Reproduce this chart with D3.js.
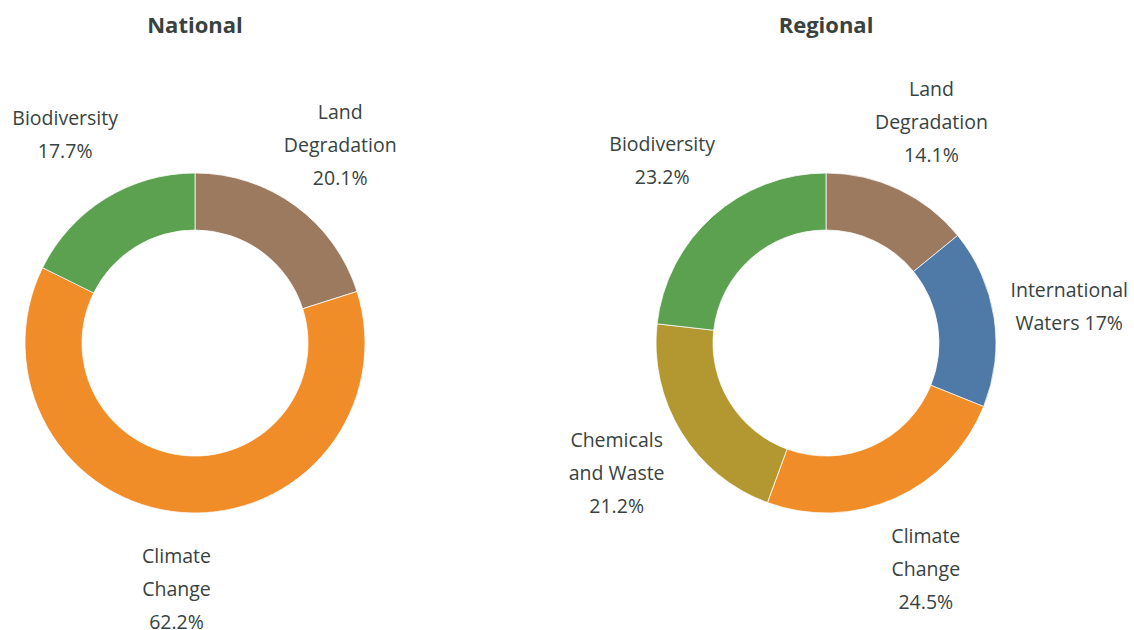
<!DOCTYPE html>
<html>
<head>
<meta charset="utf-8">
<script src="https://cdn.jsdelivr.net/npm/d3@7"></script>
<style>
    body { margin: 0; background: #ffffff; }
    #chart-area { width: 1134px; height: 630px; }
</style>
</head>
<body>
<div id="chart-area"></div>
<script>
//1. Data
var national_categories = ["Land Degradation", "Climate Change", "Biodiversity"];
var national_values = [20.1, 62.2, 17.7];

var regional_categories = ["Land Degradation", "International Waters", "Climate Change", "Chemicals and Waste", "Biodiversity"];
var regional_values = [14.1, 17, 24.5, 21.2, 23.2];

// label wrapping as it appears in the picture
var label_lines = {
    "National": {
        "Land Degradation": ["Land", "Degradation"],
        "Climate Change": ["Climate", "Change"],
        "Biodiversity": ["Biodiversity"]
    },
    "Regional": {
        "Land Degradation": ["Land", "Degradation"],
        "International Waters": ["International", "Waters"],
        "Climate Change": ["Climate", "Change"],
        "Chemicals and Waste": ["Chemicals", "and Waste"],
        "Biodiversity": ["Biodiversity"]
    }
};
// these ones have the percent on the same line as the last word
var inline_percent = ["International Waters"];

var Topic_Colors = {
    "Land Degradation": "#9b7a5f",
    "Climate Change": "#f08d29",
    "Biodiversity": "#5ba150",
    "International Waters": "#4f7aa8",
    "Chemicals and Waste": "#b39731"
};

//2. Sizes
var svg_width = 1134;
var svg_height = 630;
var outer_radius = 170;
var inner_radius = 113;
var label_radius = 246;
var line_height = 33;
var text_color = "#38433f";

var svg = d3.select("#chart-area").append("svg")
    .attr("width", svg_width)
    .attr("height", svg_height)
    .style("font-family", "'Open Sans', sans-serif");

//3. Color scale
var color_scaling = d3.scaleOrdinal()
    .domain(Object.keys(Topic_Colors))
    .range(Object.values(Topic_Colors));

//4. Pie & arcs
var pie = d3.pie()
    .sort(null)
    .value(function (d) { return d.value; });

var arc = d3.arc()
    .innerRadius(inner_radius)
    .outerRadius(outer_radius);

var label_arc = d3.arc()
    .innerRadius(label_radius)
    .outerRadius(label_radius);

//5. Drawing one donut
function draw_donut(title, categories, values, cx, cy) {
    var data = categories.map(function (c, i) {
        return { name: c, value: values[i] };
    });

    svg.append("text")
        .attr("x", cx)
        .attr("y", 33)
        .attr("text-anchor", "middle")
        .attr("font-size", "22px")
        .attr("font-weight", "bold")
        .attr("fill", text_color)
        .text(title);

    var g = svg.append("g")
        .attr("class", "donut")
        .attr("transform", "translate(" + cx + "," + cy + ")");

    var arcs = pie(data);

    g.selectAll("path")
        .data(arcs)
        .enter()
        .append("path")
        .attr("d", arc)
        .attr("fill", function (d) { return color_scaling(d.data.name); })
        .attr("stroke", "#ffffff")
        .attr("stroke-width", 0.75);

    // 5.1 Labels
    arcs.forEach(function (d) {
        var pos = label_arc.centroid(d);
        var lines = label_lines[title][d.data.name].slice();
        var pct = d.data.value + "%";
        if (inline_percent.indexOf(d.data.name) != -1) {
            lines[lines.length - 1] += " " + pct;
        } else {
            lines.push(pct);
        }
        var text = g.append("text")
            .attr("text-anchor", "middle")
            .attr("font-size", "19.5px")
            .attr("fill", text_color);
        lines.forEach(function (line, i) {
            text.append("tspan")
                .attr("x", pos[0])
                .attr("y", pos[1] + (i - (lines.length - 1) / 2) * line_height)
                .attr("dy", "0.4em")
                .text(line);
        });
    });
}

draw_donut("National", national_categories, national_values, 195, 343);
draw_donut("Regional", regional_categories, regional_values, 826, 343);
</script>
</body>
</html>
